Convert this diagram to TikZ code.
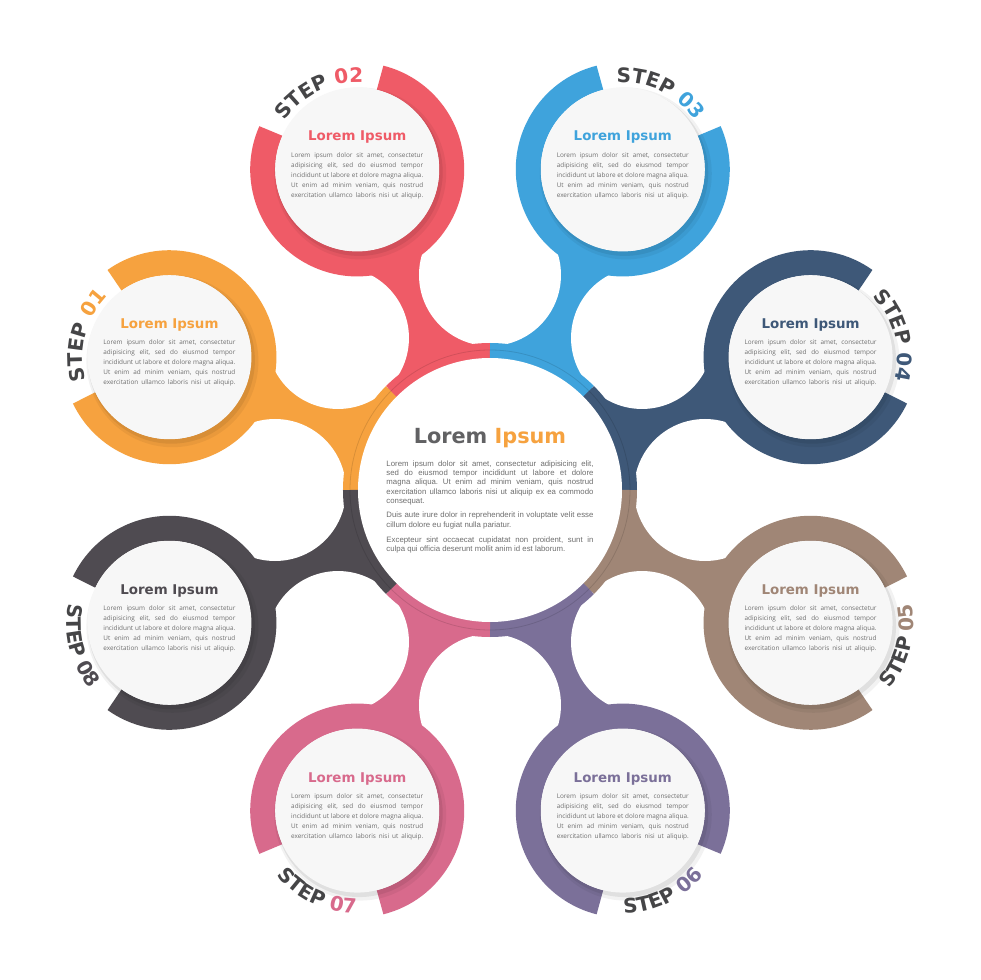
\documentclass[tikz,border=0pt]{standalone}
\usepackage{fontspec}
\setmainfont{Open Sans}
\newfontfamily\verdanafont{DejaVu Sans}
\newfontfamily\arialfont{Liberation Sans}
\usetikzlibrary{decorations.text}
\frenchspacing

\definecolor{cOrange}{HTML}{F6A23F}
\definecolor{cRed}{HTML}{EF5B67}
\definecolor{cBlue}{HTML}{3FA3DC}
\definecolor{cNavy}{HTML}{3E5878}
\definecolor{cBrown}{HTML}{A08676}
\definecolor{cPurple}{HTML}{7B7099}
\definecolor{cPink}{HTML}{D86A8C}
\definecolor{cDark}{HTML}{4F4B51}
\definecolor{stepgrey}{HTML}{454547}
\definecolor{bodygrey}{HTML}{6E6E6E}
\definecolor{diskwhite}{HTML}{F7F7F7}

\newcommand{\stepfont}{\verdanafont\bfseries\fontsize{20}{20}\selectfont}
\newcommand{\jline}[2][132pt]{\makebox[#1][s]{#2}}

\tikzset{
  disk/.style={circle, fill=diskwhite, minimum size=164pt, inner sep=0pt},
  titletext/.style={font=\verdanafont\bfseries\fontsize{13.4}{16}\selectfont, inner sep=0pt},
  bodytext/.style={align=center, inner sep=0pt, text=bodygrey, font=\fontsize{6.4}{10}\selectfont},
  hubbody/.style={align=left, inner sep=0pt, text=bodygrey, font=\arialfont\fontsize{7.8}{9.3}\selectfont}
}

\begin{document}
\begin{tikzpicture}[x=1pt,y=1pt]
	\fill[white] (-490,-490) rectangle (490,490);
	\useasboundingbox (-490,-490) rectangle (490,490);
	\coordinate (o) at (0,0);
	% satellite centres and the gaps between the stems
	\foreach \k/\ang in {1/157.5,2/112.5,3/67.5,4/22.5,5/-22.5,6/-67.5,7/-112.5,8/-157.5}
	{
		\coordinate (s\k) at (\ang:347);
		\coordinate (g\k) at (\ang+22.5:215);
	}
	% stems
	\foreach \k/\col in {1/cOrange,2/cRed,3/cBlue,4/cNavy,5/cBrown,6/cPurple,7/cPink,8/cDark}
	{
		\pgfmathtruncatemacro\nxt{mod(\k,8)+1}
		\fill[\col] (o) -- (g\k) -- (s\k) -- (g\nxt) -- cycle;
	}
	\foreach \k in {1,...,8}
		\fill[white] (g\k) circle[radius=71];
	% central ring
	\foreach \ang/\col in {157.5/cOrange,112.5/cRed,67.5/cBlue,22.5/cNavy,-22.5/cBrown,-67.5/cPurple,-112.5/cPink,-157.5/cDark}
		\draw[line width=15pt, \col] (\ang-22.5:139.5) arc[start angle=\ang-22.5, end angle=\ang+22.5, radius=139.5];
	\draw[black, opacity=.12, line width=.8pt] (o) circle[radius=140];
	\node[circle, fill=white, minimum size=264pt, inner sep=0pt] (hub) at (o) {};
	\node[font=\verdanafont\bfseries\fontsize{20.8}{24}\selectfont, inner sep=0pt] (hubtitle) at ([yshift=52pt]hub.center)
		{\textcolor{stepgrey!85}{Lorem} \textcolor{cOrange}{Ipsum}};
	\node[hubbody] (hubtext) at ([yshift=-17pt]hub.center) {%
		\jline[207pt]{Lorem ipsum dolor sit amet, consectetur adipisicing elit,}\\
		\jline[207pt]{sed do eiusmod tempor incididunt ut labore et dolore}\\
		\jline[207pt]{magna aliqua. Ut enim ad minim veniam, quis nostrud}\\
		\jline[207pt]{exercitation ullamco laboris nisi ut aliquip ex ea commodo}\\
		consequat.\\[5pt]
		\jline[207pt]{Duis aute irure dolor in reprehenderit in voluptate velit esse}\\
		cillum dolore eu fugiat nulla pariatur.\\[6pt]
		\jline[207pt]{Excepteur sint occaecat cupidatat non proident, sunt in}\\
		culpa qui officia deserunt mollit anim id est laborum.};
	% satellites
	\foreach \k/\gap/\col/\num in {1/165.5/cOrange/01,2/116/cRed/02,3/64/cBlue/03,4/14.5/cNavy/04,5/-14.5/cBrown/05,6/-64/cPurple/06,7/-116/cPink/07,8/-165.5/cDark/08}
	{
		\draw[line width=25pt, \col] (s\k) ++(\gap+40:94.5) arc[start angle=\gap+40, end angle=\gap+320, radius=94.5];
		\fill[black, opacity=.05] (s\k) ++(3,-4) circle[radius=86];
		\fill[black, opacity=.07] (s\k) ++(2,-3) circle[radius=83.5];
		\node[disk] (d\k) at (s\k) {};
		\node[titletext, text=\col] (t\k) at ([yshift=32pt]d\k.center) {Lorem Ipsum};
		\node[bodytext] (b\k) at ([yshift=-6pt]d\k.center) {%
			\jline{Lorem ipsum dolor sit amet, consectetur}\\
			\jline{adipisicing elit, sed do eiusmod tempor}\\
			\jline{incididunt ut labore et dolore magna aliqua.}\\
			\jline{Ut enim ad minim veniam, quis nostrud}\\
			\jline{exercitation ullamco laboris nisi ut aliquip.}};
		\pgfmathsetmacro\dir{\k<5 ? -1 : 1}
		\pgfmathsetmacro\rr{\k<5 ? 87 : 103}
		\pgfmathsetmacro\sa{\gap-40*\dir}
		\pgfmathsetmacro\ea{\gap+40*\dir}
		\edef\steptext{|\noexpand\stepfont\noexpand\color{stepgrey}|STEP |\noexpand\stepfont\noexpand\color{\col}|\num}
		\path[decorate, decoration={text along path, text align=center, text/.expand once=\steptext}]
			(s\k) ++(\sa:\rr) arc[start angle=\sa, end angle=\ea, radius=\rr];
	}
\end{tikzpicture}
\end{document}
